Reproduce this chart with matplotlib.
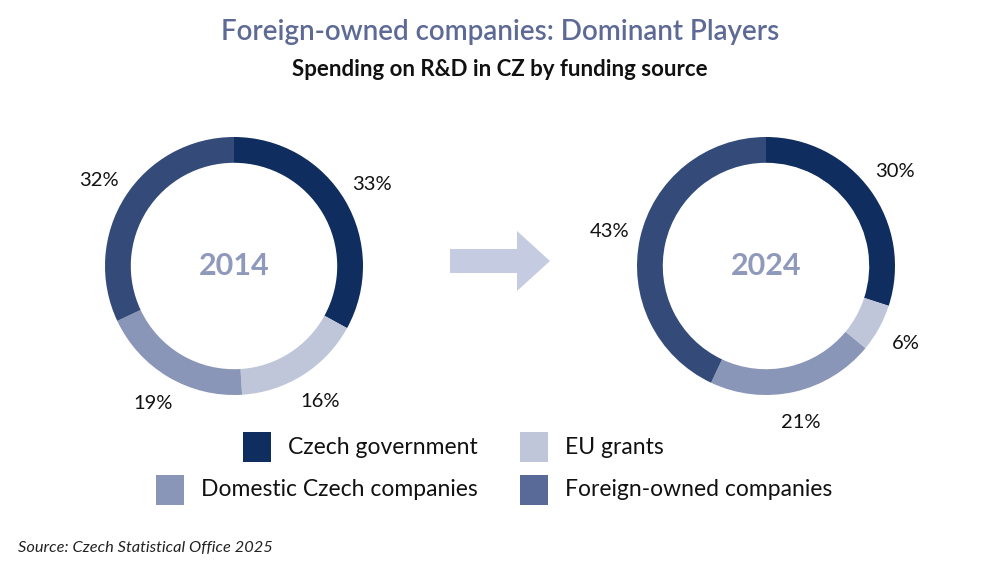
import matplotlib.pyplot as plt
from matplotlib.patches import Rectangle, FancyArrow

plt.rcParams['font.family'] = ['Lato', 'DejaVu Sans']

# Data
sources = ['Czech government', 'EU grants', 'Domestic Czech companies', 'Foreign-owned companies']
share_2014 = [33, 16, 19, 32]
share_2024 = [30, 6, 21, 43]
years = ['2014', '2024']

ring_colors = ['#0f2d5e', '#c0c6da', '#8a96b8', '#344b7a']
legend_colors = ['#0f2d5e', '#c0c6da', '#8a96b8', '#5a6a98']

W, H = 1000, 567
fig = plt.figure(figsize=(10, 5.67), dpi=100)

# overlay axes in pixel coordinates for text, arrow and legend
over = fig.add_axes([0, 0, 1, 1])
over.set_xlim(0, W)
over.set_ylim(H, 0)
over.axis('off')

over.text(500, 32, 'Foreign-owned companies: Dominant Players', ha='center', va='center',
          fontsize=20, fontweight='semibold', color='#5d6a96')
over.text(500, 70, 'Spending on R&D in CZ by funding source', ha='center', va='center',
          fontsize=16, fontweight='bold', color='#111111')
over.text(18, 548, 'Source: Czech Statistical Office 2025', ha='left', va='center',
          fontsize=11.8, style='italic', color='#222222')

# arrow between donuts
over.add_patch(FancyArrow(450, 261, 100, 0, width=24, head_width=60, head_length=33,
                          length_includes_head=True, color='#c5cbe0', lw=0))

# donuts
R = 129
half = 200
for cx, cy, vals, yr in [(234, 266, share_2014, years[0]), (766, 266, share_2024, years[1])]:
    ax = fig.add_axes([(cx - half) / W, 1 - (cy + half) / H, 2 * half / W, 2 * half / H])
    ax.pie(vals, colors=ring_colors, startangle=90, counterclock=False, radius=1,
           wedgeprops=dict(width=0.2, linewidth=0),
           autopct='%d%%', pctdistance=1.24,
           textprops=dict(fontsize=14.5, color='#111111'))
    ax.set_xlim(-half / R, half / R)
    ax.set_ylim(-half / R, half / R)
    ax.set_aspect('auto')
    ax.text(0, 0, yr, ha='center', va='center', fontsize=22, fontweight='bold', color='#8f99bb')
    ax.axis('off')

# legend, left column right-aligned
legend_rows = [
    (0, 478, 447), (1, None, 447),
    (2, 478, 490), (3, None, 490),
]
for i, right, y in legend_rows:
    if right is not None:
        t = over.text(right, y, sources[i], ha='right', va='center', fontsize=16.5, color='#111111')
        fig.canvas.draw()
        bb = t.get_window_extent()
        x0 = bb.x0 - 17 - 28
    else:
        over.text(565, y, sources[i], ha='left', va='center', fontsize=16.5, color='#111111')
        x0 = 520
    over.add_patch(Rectangle((x0, y - 15), 28, 30, color=legend_colors[i], lw=0))

fig.savefig('out.png', dpi=100)
